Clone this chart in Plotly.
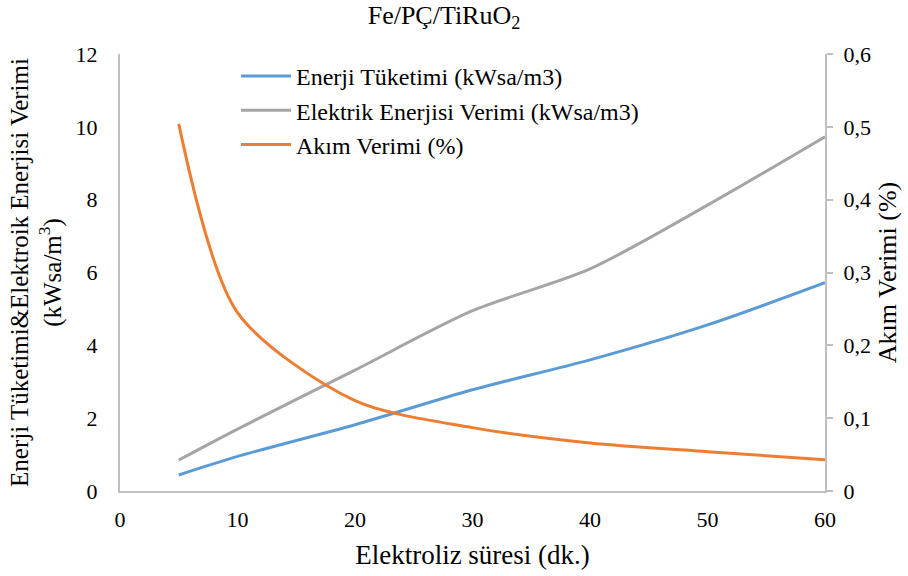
import plotly.graph_objects as go

time_min = [5, 10, 20, 30, 40, 50, 60]
enerji_tuketimi = [0.44, 0.95, 1.82, 2.78, 3.6, 4.56, 5.72]
elektrik_enerjisi = [0.85, 1.7, 3.32, 4.95, 6.1, 7.85, 9.73]
akim_verimi = [0.504, 0.245, 0.124, 0.087, 0.066, 0.054, 0.043]

FONT = "Times New Roman"
AXIS_GRAY = "#bfbfbf"

fig = go.Figure()
fig.add_trace(go.Scatter(x=time_min, y=enerji_tuketimi, mode="lines",
                         name="Enerji Tüketimi (kWsa/m3)",
                         line=dict(color="#5b9bd5", width=3, shape="spline", smoothing=0.8)))
fig.add_trace(go.Scatter(x=time_min, y=elektrik_enerjisi, mode="lines",
                         name="Elektrik Enerjisi Verimi (kWsa/m3)",
                         line=dict(color="#a5a5a5", width=3, shape="spline", smoothing=0.8)))
fig.add_trace(go.Scatter(x=time_min, y=akim_verimi, mode="lines",
                         name="Akım Verimi (%)", yaxis="y2",
                         line=dict(color="#ed7d31", width=3, shape="spline", smoothing=0.8)))

fig.update_layout(
    width=908, height=576,
    margin=dict(l=120, r=83, t=54, b=85),
    paper_bgcolor="white", plot_bgcolor="white",
    font=dict(family=FONT, size=22, color="black"),
    title=dict(text="Fe/PÇ/TiRuO<sub>2</sub>", x=0.489, xanchor="center",
               y=0.99, yanchor="top", font=dict(family=FONT, size=26)),
    showlegend=True,
    legend=dict(x=0.1645, y=1.0, xanchor="left", yanchor="top",
                bgcolor="rgba(0,0,0,0)", font=dict(family=FONT, size=24),
                tracegroupgap=0, itemwidth=50),
    xaxis=dict(range=[0, 60], dtick=10, showgrid=False, zeroline=False,
               showline=True, linecolor=AXIS_GRAY, linewidth=2,
               ticks="", ticklabelstandoff=8,
               tickfont=dict(family=FONT, size=22),
               title=dict(text="Elektroliz süresi (dk.)", standoff=14,
                          font=dict(family=FONT, size=27))),
    yaxis=dict(range=[0, 12], dtick=2, showgrid=False, zeroline=False,
               showline=True, linecolor=AXIS_GRAY, linewidth=2,
               ticks="", ticklabelstandoff=16,
               tickfont=dict(family=FONT, size=22),
               title=dict(text="Enerji Tüketimi&Elektroik Enerjisi Verimi<br>(kWsa/m<sup>3</sup>)",
                          standoff=7, font=dict(family=FONT, size=25))),
    yaxis2=dict(range=[0, 0.6], dtick=0.1, overlaying="y", side="right",
                showgrid=False, zeroline=False, showline=True,
                linecolor=AXIS_GRAY, linewidth=2, ticks="outside",
                ticklen=6, tickcolor=AXIS_GRAY, tickwidth=1.5,
                ticklabelstandoff=6,
                tickfont=dict(family=FONT, size=22),
                title=dict(text="Akım Verimi (%)", standoff=8,
                           font=dict(family=FONT, size=26))),
    separators=",.",
)

fig.write_html("out.html")
